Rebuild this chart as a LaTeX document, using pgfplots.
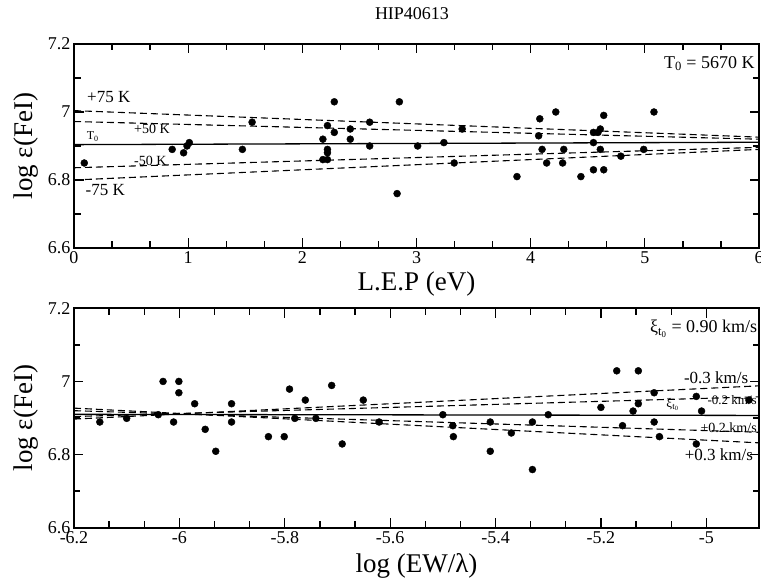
\documentclass[border=0pt]{standalone}
\usepackage{fontspec}
\setmainfont{Liberation Serif}
\usepackage{pgfplots}
\pgfplotsset{compat=1.18}
\pgfplotsset{
 panel/.style={
  scale only axis, width=685pt,
  axis line style={line width=1.8pt},
  every tick/.style={black, line width=1.3pt},
  major tick length=9.5pt, minor tick length=6.5pt,
  tick align=inside,
  minor x tick num=2, minor y tick num=1,
  ymin=6.6, ymax=7.2, ytick={6.6,6.8,7,7.2},
  yticklabels={6.6,6.8,7,7.2},
  ticklabel style={font=\fontsize{18}{18}\selectfont},
  /pgf/number format/assume math mode=true,
  clip mode=individual,
 },
 pt/.style={only marks, mark=*, mark size=3.5pt, black},
 sol/.style={black, line width=1.3pt, no marks},
 das/.style={black, line width=1.1pt, dash pattern=on 7pt off 4pt, no marks},
}
\begin{document}
\begin{tikzpicture}
\node[font=\fontsize{18}{18}\selectfont] at (412pt,572pt) {HIP40613};
% ---------------- top panel ----------------
\begin{axis}[panel, at={(74pt,338pt)}, anchor=south west, height=204pt,
  xmin=0, xmax=6, xtick={0,1,2,3,4,5,6},
  xlabel={L.E.P (eV)}, ylabel={log ε(FeI)},
  every axis x label/.style={at={(axis description cs:0.5,-0.2108)}, anchor=base, font=\fontsize{27}{27}\selectfont},
  every axis y label/.style={at={(axis description cs:-0.0613,0.5)}, anchor=base, rotate=90, font=\fontsize{27}{27}\selectfont},
 ]
\addplot[sol] coordinates {(0,6.904)(6,6.911)};
\addplot[das] coordinates {(0,7.004)(6,6.926)};
\addplot[das] coordinates {(0,6.972)(6,6.920)};
\addplot[das] coordinates {(0,6.836)(6,6.896)};
\addplot[das] coordinates {(0,6.800)(6,6.890)};
\addplot[pt] coordinates {
(0.09,6.85)(0.86,6.89)(0.96,6.88)(0.99,6.90)(1.01,6.91)(1.475,6.89)(1.56,6.97)
(2.18,6.92)(2.18,6.86)(2.22,6.96)(2.22,6.89)(2.22,6.88)(2.22,6.86)(2.28,7.03)
(2.28,6.94)(2.42,6.95)(2.42,6.92)(2.59,6.97)(2.59,6.90)(2.85,7.03)(2.83,6.76)
(3.01,6.90)(3.24,6.91)(3.33,6.85)(3.40,6.95)(3.88,6.81)(4.07,6.93)(4.08,6.98)
(4.10,6.89)(4.14,6.85)(4.22,7.00)(4.28,6.85)(4.29,6.89)(4.44,6.81)(4.55,6.94)
(4.55,6.91)(4.55,6.83)(4.59,6.94)(4.61,6.95)(4.61,6.89)(4.64,6.99)(4.64,6.83)
(4.79,6.87)(4.99,6.89)(5.08,7.00)};
\node[anchor=west, font=\fontsize{17}{17}\selectfont, inner sep=0pt] at (axis cs:0.114,7.044) {+75 K};
\node[anchor=west, font=\fontsize{14}{14}\selectfont, inner sep=0pt] at (axis cs:0.525,6.95) {+50 K};
\node[anchor=base west, font=\fontsize{12}{12}\selectfont, inner sep=0pt] at (axis cs:0.11,6.918) {T\textsubscript{0}};
\node[anchor=west, font=\fontsize{14}{14}\selectfont, inner sep=0pt] at (axis cs:0.525,6.856) {-50 K};
\node[anchor=west, font=\fontsize{17}{17}\selectfont, inner sep=0pt] at (axis cs:0.10,6.771) {-75 K};
\node[anchor=base east, font=\fontsize{18}{18}\selectfont, inner sep=0pt] at (axis cs:5.963,7.129) {T\textsubscript{0} = 5670 K};
\end{axis}
% ---------------- bottom panel ----------------
\begin{axis}[panel, at={(74pt,58.3pt)}, anchor=south west, height=219.4pt,
  xmin=-6.2, xmax=-4.9, xtick={-6.2,-6,-5.8,-5.6,-5.4,-5.2,-5},
  xticklabels={-6.2,-6,-5.8,-5.6,-5.4,-5.2,-5},
  xlabel={log (EW/λ)}, ylabel={log ε(FeI)},
  every axis x label/.style={at={(axis description cs:0.5,-0.2051)}, anchor=base, font=\fontsize{27}{27}\selectfont},
  every axis y label/.style={at={(axis description cs:-0.0613,0.5)}, anchor=base, rotate=90, font=\fontsize{27}{27}\selectfont},
 ]
\addplot[sol] coordinates {(-6.2,6.910)(-4.9,6.907)};
\addplot[das] coordinates {(-6.2,6.897)(-4.9,6.988)};
\addplot[das] coordinates {(-6.2,6.904)(-4.9,6.958)};
\addplot[das] coordinates {(-6.2,6.920)(-4.9,6.861)};
\addplot[das] coordinates {(-6.2,6.927)(-4.9,6.832)};
\addplot[pt] coordinates {
(-6.151,6.889)(-6.100,6.899)(-6.040,6.909)(-6.031,7.0)(-6.011,6.889)(-6.001,7.0)
(-6.001,6.969)(-5.971,6.939)(-5.951,6.869)(-5.931,6.809)(-5.901,6.939)(-5.901,6.889)
(-5.831,6.849)(-5.801,6.849)(-5.791,6.979)(-5.781,6.899)(-5.761,6.949)(-5.741,6.899)
(-5.711,6.989)(-5.691,6.829)(-5.651,6.949)(-5.621,6.889)(-5.5,6.909)(-5.481,6.879)
(-5.480,6.849)(-5.410,6.889)(-5.410,6.809)(-5.370,6.859)(-5.330,6.889)(-5.330,6.759)
(-5.300,6.909)(-5.200,6.929)(-5.170,7.029)(-5.159,6.879)(-5.139,6.919)(-5.129,7.029)
(-5.129,6.939)(-5.099,6.969)(-5.099,6.889)(-5.089,6.849)(-5.019,6.959)(-5.019,6.829)
(-5.009,6.919)(-4.919,6.949)};
\node[anchor=base east, font=\fontsize{18}{18}\selectfont, inner sep=0pt] at (axis cs:-4.903,7.133) {ξ\textsubscript{t\textsubscript{0}} = 0.90 km/s};
\node[anchor=base east, font=\fontsize{17}{17}\selectfont, inner sep=0pt] at (axis cs:-4.92,6.993) {-0.3 km/s};
\node[anchor=base east, font=\fontsize{13}{13}\selectfont, inner sep=0pt] at (axis cs:-4.904,6.938) {-0.2 km/s};
\node[anchor=base west, font=\fontsize{13}{13}\selectfont, inner sep=0pt] at (axis cs:-5.076,6.928) {ξ\textsubscript{t\textsubscript{0}}};
\node[anchor=base east, font=\fontsize{14}{14}\selectfont, inner sep=0pt] at (axis cs:-4.904,6.859) {+0.2 km/s};
\node[anchor=base east, font=\fontsize{17}{17}\selectfont, inner sep=0pt] at (axis cs:-4.911,6.785) {+0.3 km/s};
\end{axis}
\pgfresetboundingbox
\useasboundingbox (0pt,0pt) rectangle (761pt,586pt);
\end{tikzpicture}
\end{document}
